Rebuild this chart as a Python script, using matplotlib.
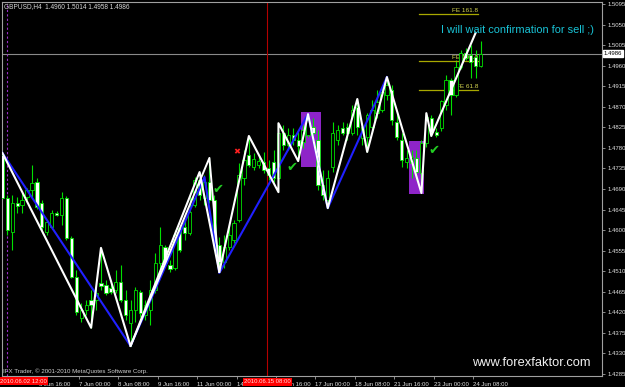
import matplotlib
matplotlib.use("Agg")
import matplotlib.pyplot as plt
import matplotlib.transforms as mtransforms
from matplotlib.patches import Rectangle

plt.rcParams['font.family'] = ['Liberation Sans', 'DejaVu Sans']

# GBPUSD H4, bar -1 = 2010.06.02 08:00 ... bar 96 = 2010.06.24 12:00
bars = list(range(-1, 97))
opens = [1.4764, 1.4670, 1.4596, 1.4659, 1.4655, 1.4672, 1.4688, 1.4705, 1.4659, 1.4596,
         1.4607, 1.4637, 1.4633, 1.4670, 1.4583, 1.4497, 1.4407, 1.4425, 1.4447, 1.4447,
         1.4484, 1.4480, 1.4473, 1.4469, 1.4486, 1.4447, 1.4396, 1.4425, 1.4464, 1.4414,
         1.4425, 1.4469, 1.4528, 1.4563, 1.4523, 1.4517, 1.4605, 1.4607, 1.4594, 1.4655,
         1.4710, 1.4670, 1.4705, 1.4666, 1.4567, 1.4530, 1.4563, 1.4578, 1.4622, 1.4714,
         1.4764, 1.4738, 1.4742, 1.4749, 1.4736, 1.4749, 1.4714, 1.4813, 1.4786, 1.4808,
         1.4797, 1.4793, 1.4808, 1.4826, 1.4797, 1.4699, 1.4666, 1.4738, 1.4797, 1.4823,
         1.4826, 1.4813, 1.4870, 1.4802, 1.4804, 1.4826, 1.4856, 1.4863, 1.4896, 1.4907,
         1.4837, 1.4797, 1.4749, 1.4747, 1.4758, 1.4725, 1.4791, 1.4845, 1.4815, 1.4823,
         1.4874, 1.4929, 1.4896, 1.4957, 1.4988, 1.4983, 1.4979, 1.4960]
highs = [1.4769, 1.4677, 1.4677, 1.4672, 1.4681, 1.4692, 1.4742, 1.4714, 1.4666, 1.4622,
         1.4644, 1.4642, 1.4683, 1.4675, 1.4587, 1.4513, 1.4440, 1.4447, 1.4469, 1.4475,
         1.4561, 1.4491, 1.4484, 1.4513, 1.4523, 1.4469, 1.4447, 1.4475, 1.4469, 1.4447,
         1.4491, 1.4550, 1.4607, 1.4567, 1.4535, 1.4600, 1.4609, 1.4622, 1.4677, 1.4716,
         1.4727, 1.4721, 1.4758, 1.4677, 1.4585, 1.4589, 1.4611, 1.4622, 1.4747, 1.4775,
         1.4806, 1.4769, 1.4762, 1.4771, 1.4753, 1.4775, 1.4834, 1.4830, 1.4823, 1.4823,
         1.4815, 1.4830, 1.4854, 1.4845, 1.4819, 1.4732, 1.4732, 1.4837, 1.4830, 1.4837,
         1.4834, 1.4874, 1.4887, 1.4830, 1.4856, 1.4885, 1.4907, 1.4911, 1.4935, 1.4918,
         1.4859, 1.4813, 1.4775, 1.4775, 1.4775, 1.4797, 1.4856, 1.4852, 1.4823, 1.4885,
         1.4940, 1.4933, 1.4972, 1.4994, 1.4999, 1.5005, 1.4994, 1.5014]
lows = [1.4666, 1.4589, 1.4556, 1.4637, 1.4637, 1.4666, 1.4672, 1.4646, 1.4600, 1.4589,
        1.4602, 1.4631, 1.4611, 1.4578, 1.4495, 1.4414, 1.4399, 1.4414, 1.4386, 1.4425,
        1.4469, 1.4458, 1.4460, 1.4462, 1.4442, 1.4403, 1.4346, 1.4399, 1.4410, 1.4403,
        1.4392, 1.4462, 1.4506, 1.4523, 1.4508, 1.4513, 1.4552, 1.4578, 1.4589, 1.4651,
        1.4666, 1.4655, 1.4659, 1.4556, 1.4508, 1.4517, 1.4556, 1.4572, 1.4618, 1.4699,
        1.4738, 1.4732, 1.4736, 1.4725, 1.4710, 1.4705, 1.4683, 1.4775, 1.4775, 1.4786,
        1.4751, 1.4780, 1.4804, 1.4791, 1.4688, 1.4666, 1.4648, 1.4727, 1.4786, 1.4808,
        1.4797, 1.4808, 1.4808, 1.4786, 1.4771, 1.4819, 1.4845, 1.4859, 1.4885, 1.4830,
        1.4797, 1.4738, 1.4736, 1.4714, 1.4710, 1.4681, 1.4782, 1.4806, 1.4804, 1.4817,
        1.4863, 1.4852, 1.4891, 1.4953, 1.4972, 1.4933, 1.4933, 1.4958]
closes = [1.4670, 1.4600, 1.4659, 1.4653, 1.4666, 1.4688, 1.4703, 1.4651, 1.4607, 1.4618,
          1.4637, 1.4633, 1.4670, 1.4583, 1.4497, 1.4420, 1.4425, 1.4436, 1.4436, 1.4462,
          1.4478, 1.4462, 1.4464, 1.4486, 1.4447, 1.4414, 1.4425, 1.4469, 1.4418, 1.4436,
          1.4469, 1.4528, 1.4567, 1.4528, 1.4515, 1.4589, 1.4556, 1.4594, 1.4640, 1.4710,
          1.4677, 1.4705, 1.4666, 1.4567, 1.4530, 1.4563, 1.4589, 1.4615, 1.4721, 1.4753,
          1.4742, 1.4756, 1.4751, 1.4732, 1.4721, 1.4714, 1.4813, 1.4786, 1.4808, 1.4797,
          1.4784, 1.4819, 1.4841, 1.4813, 1.4699, 1.4677, 1.4714, 1.4813, 1.4819, 1.4813,
          1.4813, 1.4863, 1.4826, 1.4826, 1.4852, 1.4863, 1.4880, 1.4902, 1.4918, 1.4841,
          1.4804, 1.4753, 1.4758, 1.4760, 1.4727, 1.4791, 1.4848, 1.4815, 1.4808, 1.4883,
          1.4929, 1.4896, 1.4957, 1.4988, 1.4977, 1.4968, 1.4959, 1.4986]

# zigzag swings (bar, price)
white_bars = [-1, 17, 19, 25, 39, 43, 49, 55, 55, 59, 61, 65, 71, 73, 77, 84, 85, 86, 95]
white_prices = [1.4769, 1.4386, 1.4561, 1.4346, 1.4727, 1.4508, 1.4806, 1.4683, 1.4834, 1.4751,
                1.4854, 1.4648, 1.4887, 1.4771, 1.4935, 1.4681, 1.4856, 1.4806, 1.5032]
white2_bars = [25, 41, 43]
white2_prices = [1.4346, 1.4758, 1.4508]
blue_bars = [-1, 25, 40, 43, 61, 65, 77]
blue_prices = [1.4769, 1.4346, 1.4716, 1.4506, 1.4854, 1.4648, 1.4935]

# purple boxes (bar from, bar to, price low, price high)
boxes = [(59.6, 63.6, 1.4738, 1.4858), (81.5, 84.5, 1.4679, 1.4795)]
checks = [(42.7, 1.4688), (57.7, 1.4736), (86.5, 1.4775)]
cross = (46.6, 1.4771)

fe_names = ['FE 161.8', 'FE 100.0', 'FE 61.8']
fe_prices = [1.5073, 1.4970, 1.4907]
fe_from, fe_to = 83.5, 95.5

price_ticks = [1.5095, 1.5050, 1.5005, 1.4960, 1.4915, 1.4870, 1.4825, 1.4780, 1.4735, 1.4690,
               1.4645, 1.4600, 1.4555, 1.4510, 1.4465, 1.4420, 1.4375, 1.4330, 1.4285]
time_bars = [7, 15, 23, 31, 39, 47, 55, 63, 71, 79, 87, 95]
time_labels = ['3 Jun 16:00', '7 Jun 00:00', '8 Jun 08:00', '9 Jun 16:00', '11 Jun 00:00',
               '14 Jun 08:00', '15 Jun 16:00', '17 Jun 00:00', '18 Jun 08:00', '21 Jun 16:00',
               '23 Jun 00:00', '24 Jun 08:00']
bid = 1.4986

fig = plt.figure(figsize=(6.25, 3.87), dpi=100, facecolor='black')
ax = fig.add_axes([2 / 625, 11 / 387, 600 / 625, 374 / 387], facecolor='black')
ax.set_xlim(-1.075, 120.63)
ax.set_ylim(1.42804, 1.50994)

grid_grey = '#a0a0a0'
for s in ax.spines.values():
    s.set_color(grid_grey)
    s.set_linewidth(0.8)

# objects under the candles
for b0, b1, p0, p1 in boxes:
    ax.add_patch(Rectangle((b0, p0), b1 - b0, p1 - p0, facecolor='#8e24c8', edgecolor='none', zorder=1))
ax.axhline(bid, color='#8a8a8a', lw=0.8, zorder=1)
ax.axvline(52.75, color='#b40000', lw=0.8, zorder=1)
ax.axvline(-0.05, color='#9b30c8', lw=0.8, ls=(0, (2, 2)), zorder=1)

# candles
lime = '#00e000'
ax.vlines(bars, lows, highs, color=lime, lw=0.8, zorder=2)
for b, o, c in zip(bars, opens, closes):
    face = 'black' if c >= o else 'white'
    ax.bar(b, max(abs(c - o), 0.00008), bottom=min(o, c), width=0.66, color=face,
           edgecolor=lime, linewidth=0.6, zorder=3)

# zigzags
ax.plot(blue_bars, blue_prices, color='#2020ff', lw=1.5, zorder=4)
ax.plot(white2_bars, white2_prices, color='white', lw=1.4, zorder=5)
ax.plot(white_bars, white_prices, color='white', lw=1.5, zorder=5)

# fibo expansion
for name, p in zip(fe_names, fe_prices):
    ax.plot([fe_from, fe_to], [p, p], color='#a8a800', lw=0.9, zorder=2)
    ax.text(fe_to, p + 0.0002, name, color='#d6d650', fontsize=4.6, ha='right', va='bottom', zorder=2)

for b, p in checks:
    ax.text(b, p, '\u2714', color='#22cc22', fontsize=9.5, ha='center', va='center',
            family='DejaVu Sans', zorder=6)
ax.text(cross[0], cross[1], '\u2716', color='#ff2020', fontsize=6, ha='center', va='center',
        family='DejaVu Sans', zorder=6)

ax.text(88.0, 1.5038, 'I will wait confirmation for sell ;)', color='#19c3d6', fontsize=7.9,
        ha='left', va='center', zorder=6)
ax.text(94.3, 1.4309, 'www.forexfaktor.com', color='#f0f0f0', fontsize=9.3, ha='left', va='center', zorder=6)
ax.text(0.0033, 0.989, 'GBPUSD,H4  1.4960 1.5014 1.4958 1.4986', transform=ax.transAxes,
        color='#d8d8d8', fontsize=4.7, ha='left', va='center')
ax.text(0.0017, 0.0134, 'IFX Trader, \u00a9 2001-2010 MetaQuotes Software Corp.', transform=ax.transAxes,
        color='#d0d0d0', fontsize=4.4, ha='left', va='center')

# right price scale
ax.yaxis.tick_right()
ax.set_yticks(price_ticks, labels=[f'{p:.4f}' for p in price_ticks])
ax.tick_params(axis='y', colors=grid_grey, labelcolor='#e0e0e0', labelsize=4.3, length=2.5, width=0.6, pad=1.5)
trans_y = mtransforms.blended_transform_factory(ax.transAxes, ax.transData)
ax.text(1.003, bid, f'{bid:.4f}', transform=trans_y, color='black', fontsize=4.3, ha='left', va='center',
        bbox=dict(boxstyle='square,pad=0.15', facecolor='white', edgecolor='white'), clip_on=False)

# time scale (the two red object-time boxes sit on top of the regular labels, as in MT4)
ax.set_xticks([b - 0.5 for b in time_bars], labels=time_labels)
ax.tick_params(axis='x', colors=grid_grey, labelcolor='#e0e0e0', labelsize=4.3, length=2.5, width=0.6, pad=1.5)
for lbl in ax.get_xticklabels():
    lbl.set_horizontalalignment('left')
trans_x = mtransforms.blended_transform_factory(ax.transData, ax.transAxes)
ax.text(52.75, -0.016, '2010.06.15 08:00', transform=trans_x, color='#ffe0e0', fontsize=4.3,
        ha='center', va='center', bbox=dict(boxstyle='square,pad=0.2', facecolor='#ff0000', edgecolor='none'),
        clip_on=False, zorder=10)
fig.text(0.0, 0.0155, '2010.06.02 12:00', color='#ffe0e0', fontsize=4.3, ha='left', va='center',
         bbox=dict(boxstyle='square,pad=0.2', facecolor='#ff0000', edgecolor='none'), zorder=10)

fig.savefig('out.png', dpi=100, facecolor='black')
